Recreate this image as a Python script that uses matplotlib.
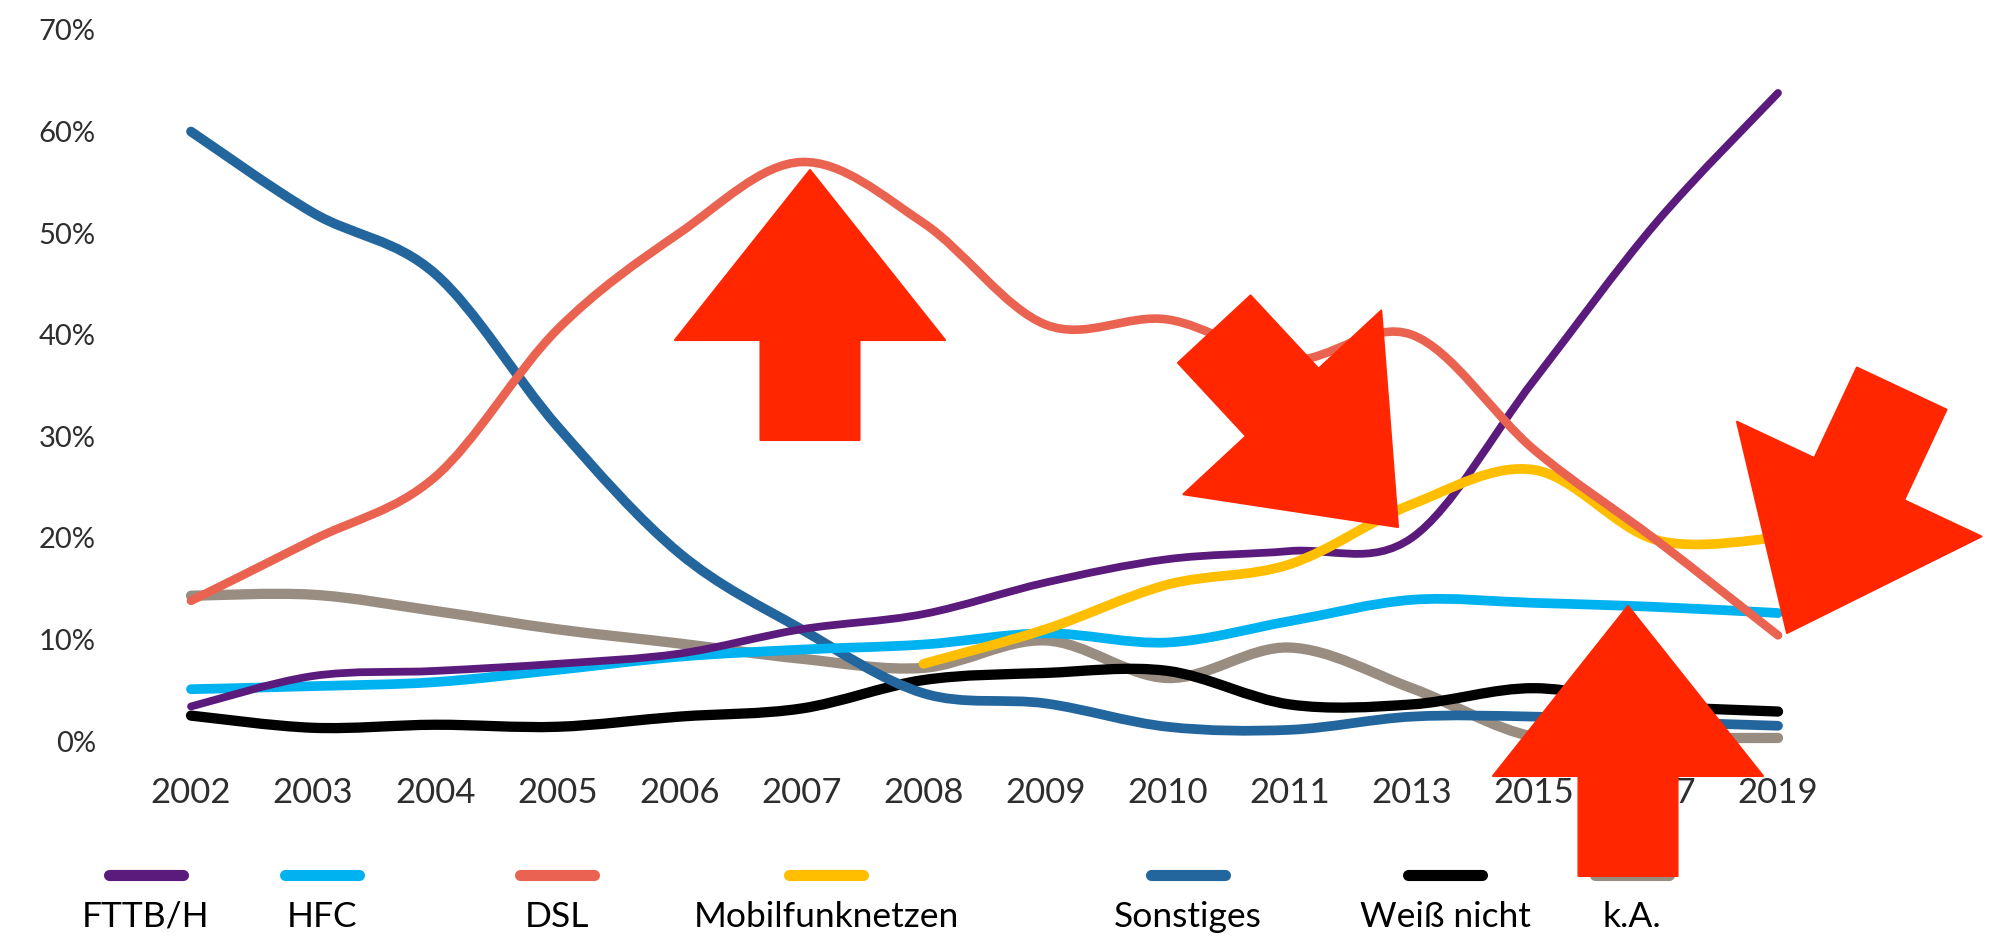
import numpy as np
import matplotlib
matplotlib.use("Agg")
import matplotlib.pyplot as plt
from matplotlib.path import Path
from matplotlib.patches import PathPatch, Polygon
from matplotlib.lines import Line2D

plt.rcParams['font.family'] = ['Lato', 'DejaVu Sans']

# ---------------- data ----------------
years = ["2002", "2003", "2004", "2005", "2006", "2007", "2008", "2009",
         "2010", "2011", "2013", "2015", "2017", "2019"]

fttb_h = [3.4, 6.4, 6.9, 7.6, 8.6, 11.0, 12.5, 15.6, 17.9, 18.7, 20.0, 35.5, 51.0, 63.8]
hfc = [5.1, 5.4, 5.8, 7.0, 8.3, 9.0, 9.5, 10.6, 9.7, 11.8, 13.9, 13.6, 13.2, 12.6]
dsl = [13.8, 19.8, 26.0, 40.5, 50.0, 57.0, 51.0, 41.0, 41.5, 37.5, 40.0, 28.7, 19.8, 10.4]
mobilfunk = [np.nan, np.nan, np.nan, np.nan, np.nan, np.nan, 7.6, 11.0, 15.4,
             17.4, 23.3, 26.7, 19.8, 20.0]
sonstiges = [60.0, 52.0, 46.0, 31.0, 18.5, 11.0, 4.7, 3.7, 1.4, 1.1, 2.4, 2.4, 1.9, 1.5]
weiss_nicht = [2.5, 1.3, 1.6, 1.4, 2.4, 3.2, 6.0, 6.7, 6.9, 3.6, 3.6, 5.2, 3.5, 2.9]
k_a = [14.3, 14.4, 12.8, 11.0, 9.6, 8.1, 7.2, 9.9, 6.2, 9.2, 5.2, 0.4, 0.3, 0.3]

series_names = ["FTTB/H", "HFC", "DSL", "Mobilfunknetzen", "Sonstiges", "Weiß nicht", "k.A."]
series_values = [fttb_h, hfc, dsl, mobilfunk, sonstiges, weiss_nicht, k_a]
series_colors = ["#5B1B7C", "#00B2F0", "#EA6250", "#FFBF00", "#23669E", "#000000", "#998D82"]
series_widths = [5.6, 7.0, 6.2, 7.0, 7.0, 7.4, 7.4]

ytick_values = [0, 10, 20, 30, 40, 50, 60, 70]

# ---------------- figure ----------------
W, H = 1994, 939
fig = plt.figure(figsize=(W / 100, H / 100), dpi=100)
fig.patch.set_facecolor("white")

px_unit = 122.08
x0_px = 191
ax_left_px, ax_right_px = 100, 1990
pct_px = (741 - 30) / 70.0
ylo, yhi = -3, 72
ax_bottom_px = 741 + (0 - ylo) * pct_px
ax_top_px = 30 - (yhi - 70) * pct_px
ax = fig.add_axes([ax_left_px / W, 1 - ax_bottom_px / H,
                   (ax_right_px - ax_left_px) / W, (ax_bottom_px - ax_top_px) / H])
ax.set_xlim(-(x0_px - ax_left_px) / px_unit, 13 + (ax_right_px - 1778) / px_unit)
ax.set_ylim(ylo, yhi)
for s in ax.spines.values():
    s.set_visible(False)
ax.set_facecolor("none")


def smooth_path(xs, ys):
    pts = np.column_stack([xs, ys])
    n = len(pts)
    verts = [pts[0]]
    codes = [Path.MOVETO]
    for i in range(n - 1):
        p0 = pts[i - 1] if i > 0 else pts[i]
        p1 = pts[i]
        p2 = pts[i + 1]
        p3 = pts[i + 2] if i + 2 < n else pts[i + 1]
        c1 = p1 + (p2 - p0) / 6.0
        c2 = p2 - (p3 - p1) / 6.0
        verts += [c1, c2, p2]
        codes += [Path.CURVE4] * 3
    return Path(verts, codes)


order = [6, 5, 4, 1, 0, 3, 2]
for k, idx in enumerate(order):
    vals = np.array(series_values[idx], dtype=float)
    xs = np.arange(len(years))
    m = ~np.isnan(vals)
    path = smooth_path(xs[m], vals[m])
    patch = PathPatch(path, facecolor="none", edgecolor=series_colors[idx],
                      lw=series_widths[idx], capstyle="round", joinstyle="round",
                      zorder=2 + k, clip_on=False)
    ax.add_patch(patch)

ax.set_xticks(range(len(years)))
ax.set_xticklabels(years, fontsize=25, color="#2e2e2e")
ax.set_yticks(ytick_values)
ax.set_yticklabels([f"{v}%" for v in ytick_values], fontsize=21, color="#2e2e2e")
ax.tick_params(axis="both", length=0)
ax.tick_params(axis="x", pad=4)
ax.tick_params(axis="y", pad=3)

# ---------------- legend (manual) ----------------
legend_centers = [146, 322, 557, 826, 1188, 1445, 1632]
sw_half = 37
sw_y = 875
lab_y = 917
for name, col, cx in zip(series_names, series_colors, legend_centers):
    fig.add_artist(Line2D([(cx - sw_half) / W, (cx + sw_half) / W],
                          [1 - sw_y / H, 1 - sw_y / H], transform=fig.transFigure,
                          color=col, lw=8, solid_capstyle="round"))
    fig.text(cx / W, 1 - lab_y / H, name, ha="center", va="center",
             fontsize=25.5, color="black")

# ---------------- red arrows overlay ----------------
arrow_tips = [(810, 170), (1398, 527), (1628, 606), (1787, 633)]
arrow_dirs = [(0, -1), (117, 126), (0, -1), (-72.5, 154.5)]
head_len, head_half, shaft_len, shaft_half = 170, 135, 100, 49.5
for (tx, ty), (dx, dy) in zip(arrow_tips, arrow_dirs):
    u = np.array([dx, dy], float)
    u /= np.linalg.norm(u)
    v = np.array([-u[1], u[0]])
    tip = np.array([tx, ty], float)
    local = [(0, 0), (-head_len, head_half), (-head_len, shaft_half),
             (-head_len - shaft_len, shaft_half), (-head_len - shaft_len, -shaft_half),
             (-head_len, -shaft_half), (-head_len, -head_half)]
    pts = [tip + a * u + b * v for a, b in local]
    pts = [(p[0] / W, 1 - p[1] / H) for p in pts]
    fig.add_artist(Polygon(pts, closed=True, transform=fig.transFigure,
                           facecolor="#FF2600", edgecolor="#FF2600", lw=1.5,
                           joinstyle="round", zorder=20))

fig.savefig("out.png", dpi=100, facecolor="white")
